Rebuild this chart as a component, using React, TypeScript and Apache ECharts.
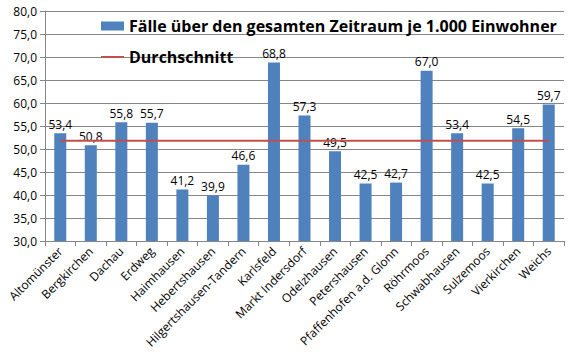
import React, { useEffect, useRef } from "react";
import * as echarts from "echarts";

const categories = [
  "Altomünster", "Bergkirchen", "Dachau", "Erdweg", "Haimhausen", "Hebertshausen",
  "Hilgertshausen-Tandern", "Karlsfeld", "Markt Indersdorf", "Odelzhausen", "Petershausen",
  "Pfaffenhofen a.d. Glonn", "Röhrmoos", "Schwabhausen", "Sulzemoos", "Vierkirchen", "Weichs",
];
const values = [53.4, 50.8, 55.8, 55.7, 41.2, 39.9, 46.6, 68.8, 57.3, 49.5, 42.5, 42.7, 67.0, 53.4, 42.5, 54.5, 59.7];
const average = categories.map(() => 51.8);
const barName = "Fälle über den gesamten Zeitraum je 1.000 Einwohner";
const lineName = "Durchschnitt";

const fmt = (v: number) => v.toFixed(1).replace(".", ",");
const FONT = "Open Sans";

export default function App() {
  const ref = useRef<HTMLDivElement>(null);
  useEffect(() => {
    document.body.style.margin = "0";
    const chart = echarts.init(ref.current!, null, { renderer: "svg" });
    chart.setOption({
      animation: false,
      backgroundColor: "#fff",
      textStyle: { fontFamily: FONT },
      grid: { left: 45, right: 8, top: 11, bottom: 118, containLabel: false },
      legend: {
        orient: "vertical",
        left: 95,
        top: 13,
        itemGap: 15,
        itemWidth: 23,
        itemHeight: 9,
        textStyle: { fontFamily: FONT, fontSize: 16, fontWeight: "bold", color: "#000" },
        data: [
          { name: barName, icon: "rect" },
          { name: lineName, itemStyle: { opacity: 0 } },
        ],
      },
      xAxis: {
        type: "category",
        data: categories,
        boundaryGap: true,
        axisLine: { lineStyle: { color: "#868686" } },
        axisTick: { show: true, length: 5, lineStyle: { color: "#868686" } },
        axisLabel: { rotate: 45, interval: 0, fontSize: 12, color: "#000", fontFamily: FONT, margin: 8 },
      },
      yAxis: {
        type: "value",
        min: 30,
        max: 80,
        interval: 5,
        axisLine: { show: true, lineStyle: { color: "#868686" } },
        axisTick: { show: true, length: 5, lineStyle: { color: "#868686" } },
        splitLine: { lineStyle: { color: "#868686" } },
        axisLabel: { formatter: (v: number) => fmt(v), fontSize: 12, color: "#000", fontFamily: FONT, margin: 8 },
      },
      series: [
        {
          name: barName,
          type: "bar",
          data: values,
          barWidth: 12,
          itemStyle: { color: "#4F81BD" },
          label: {
            show: true,
            position: "top",
            distance: 3,
            fontSize: 12,
            color: "#000",
            fontFamily: FONT,
            formatter: (p: any) => fmt(p.value),
          },
        },
        {
          name: lineName,
          type: "line",
          data: average,
          symbol: "none",
          lineStyle: { color: "#C0504D", width: 2 },
          itemStyle: { color: "#C0504D" },
        },
      ],
    });
    return () => chart.dispose();
  }, []);
  return <div ref={ref} style={{ width: 572, height: 359 }} />;
}
